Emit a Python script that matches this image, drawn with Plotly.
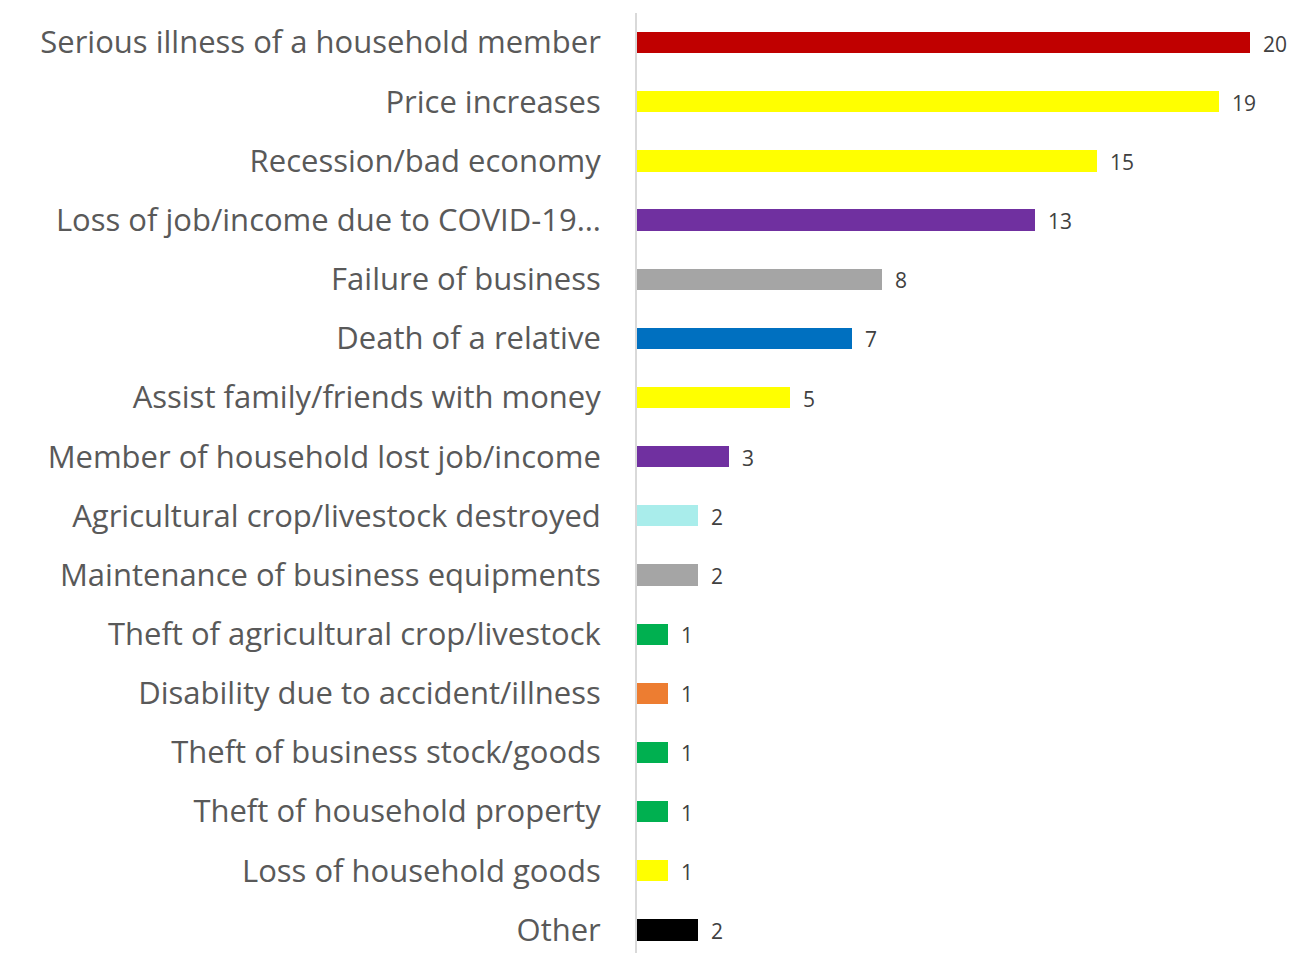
import plotly.graph_objects as go

# Reasons reported, top to bottom, with counts and bar colours
categories = [
    "Serious illness of a household member",
    "Price increases",
    "Recession/bad economy",
    "Loss of job/income due to COVID-19…",
    "Failure of business",
    "Death of a relative",
    "Assist family/friends with money",
    "Member of household lost job/income",
    "Agricultural crop/livestock destroyed",
    "Maintenance of business equipments",
    "Theft of agricultural crop/livestock",
    "Disability due to accident/illness",
    "Theft of business stock/goods",
    "Theft of household property",
    "Loss of household goods",
    "Other",
]
counts = [20, 19, 15, 13, 8, 7, 5, 3, 2, 2, 1, 1, 1, 1, 1, 2]
bar_colors = [
    "#C00000", "#FFFF00", "#FFFF00", "#7030A0", "#A5A5A5", "#0070C0",
    "#FFFF00", "#7030A0", "#A9EDEB", "#A5A5A5", "#00B050", "#ED7D31",
    "#00B050", "#00B050", "#FFFF00", "#000000",
]

fig = go.Figure(
    go.Bar(
        x=counts,
        y=categories,
        orientation="h",
        marker=dict(color=bar_colors, line=dict(width=0)),
        width=0.36,
        hoverinfo="x+y",
    )
)

# Value labels just right of each bar end
for cat, val in zip(categories, counts):
    fig.add_annotation(
        x=val, y=cat, text=str(val), showarrow=False,
        xanchor="left", yanchor="middle", xshift=11, yshift=-1,
        font=dict(family="Open Sans", size=21, color="#404040"),
    )

fig.update_layout(
    width=1291,
    height=953,
    margin=dict(l=637, r=0, t=13, b=0),
    paper_bgcolor="white",
    plot_bgcolor="white",
    showlegend=False,
    bargap=0,
    xaxis=dict(
        range=[0, 21.34],
        visible=False,
        showgrid=False,
        zeroline=False,
    ),
    yaxis=dict(
        categoryorder="array",
        categoryarray=categories,
        range=[15.39, -0.5],
        showline=True,
        linecolor="#D9D9D9",
        linewidth=2,
        showgrid=False,
        zeroline=False,
        ticks="",
        ticklabelstandoff=28,
        tickfont=dict(family="Open Sans", size=31, color="#595959"),
    ),
)

fig.write_html("out.html")
